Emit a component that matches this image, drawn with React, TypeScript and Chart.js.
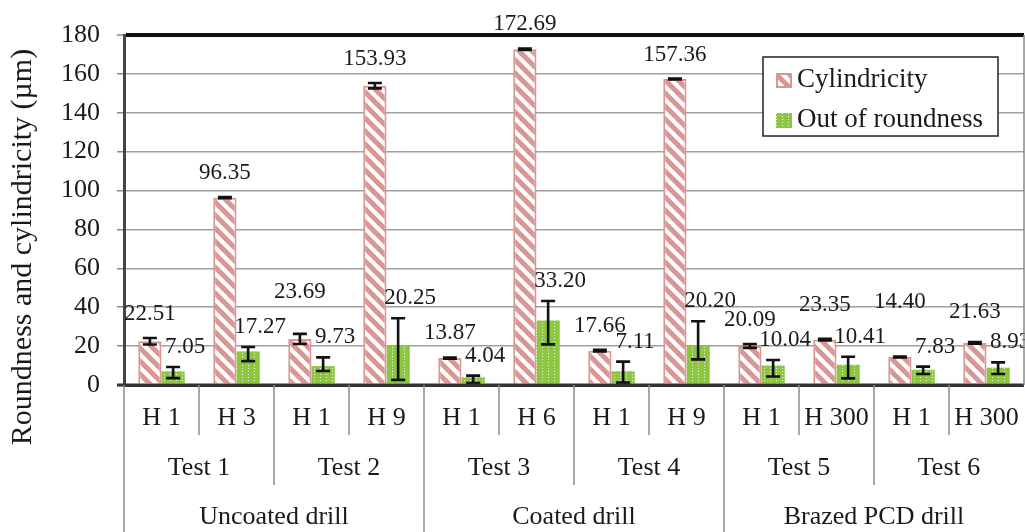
import { useEffect, useRef } from "react";
import { Chart, registerables } from "chart.js";

Chart.register(...registerables);

const SERIF = "'Liberation Serif', 'Times New Roman', serif";

// ---- data ----
const hLabels = ["H 1", "H 3", "H 1", "H 9", "H 1", "H 6", "H 1", "H 9", "H 1", "H 300", "H 1", "H 300"];
const testLabels = ["Test 1", "Test 2", "Test 3", "Test 4", "Test 5", "Test 6"];
const drillLabels = ["Uncoated drill", "Coated drill", "Brazed PCD drill"];
const seriesNames = ["Cylindricity", "Out of roundness"];
const cylindricity = [22.51, 96.35, 23.69, 153.93, 13.87, 172.69, 17.66, 157.36, 20.09, 23.35, 14.4, 21.63];
const roundness = [7.05, 17.27, 9.73, 20.25, 4.04, 33.2, 7.11, 20.2, 10.04, 10.41, 7.83, 8.93];
const cylErrPlus = [1.7, 0.3, 2.6, 1.4, 0.3, 0.4, 0.4, 0.2, 1.0, 0.4, 0.2, 0.4];
const cylErrMinus = [1.7, 0.3, 2.6, 1.4, 0.3, 0.4, 0.4, 0.2, 1.0, 0.4, 0.2, 0.4];
const rndErrPlus = [2.2, 2.3, 4.5, 14.1, 0.8, 10.0, 4.9, 12.6, 2.8, 4.1, 1.6, 2.7];
const rndErrMinus = [3.5, 5.0, 2.5, 17.6, 3.1, 12.3, 5.9, 7.0, 5.7, 7.0, 2.2, 3.3];
const yTickValues = [0, 20, 40, 60, 80, 100, 120, 140, 160, 180];
const yTitle = "Roundness and cylindricity (\u00b5m)";

const PINK = "#d99694";
const GREEN = "#8dc641";
const TEXT = "#1a1a1a";

function makeStripePattern(): CanvasPattern | string {
  const w = 13, h = 13;
  const c = document.createElement("canvas");
  c.width = w; c.height = h;
  const g = c.getContext("2d");
  if (!g) return PINK;
  g.fillStyle = "#ffffff";
  g.fillRect(0, 0, w, h);
  g.strokeStyle = PINK;
  g.lineWidth = 5;
  g.lineCap = "square";
  for (const k of [-w, 0, w]) {
    g.beginPath();
    g.moveTo(k, 0);
    g.lineTo(k + w, h);
    g.stroke();
  }
  return g.createPattern(c, "repeat") || PINK;
}

function makeDotPattern(): CanvasPattern | string {
  const s = 6;
  const c = document.createElement("canvas");
  c.width = s; c.height = s;
  const g = c.getContext("2d");
  if (!g) return GREEN;
  g.fillStyle = GREEN;
  g.fillRect(0, 0, s, s);
  g.fillStyle = "rgba(255,255,255,0.85)";
  g.fillRect(2, 2, 1, 1);
  g.fillRect(2, 5, 1, 1);
  return g.createPattern(c, "repeat") || GREEN;
}

export default function App() {
  const ref = useRef<HTMLCanvasElement | null>(null);

  useEffect(() => {
    document.body.style.margin = "0";
    const canvas = ref.current;
    if (!canvas) return;
    const pinkFill = makeStripePattern();
    const greenFill = makeDotPattern();
    const series = [
      { vals: cylindricity, plus: cylErrPlus, minus: cylErrMinus },
      { vals: roundness, plus: rndErrPlus, minus: rndErrMinus },
    ];

    const overlay = {
      id: "overlay",
      afterDatasetsDraw(chart: any) {
        const { ctx, chartArea } = chart;
        const y = chart.scales.y;
        ctx.save();
        // error bars
        ctx.strokeStyle = "#111";
        ctx.lineWidth = 2.6;
        series.forEach((s, d) => {
          const meta = chart.getDatasetMeta(d);
          meta.data.forEach((el: any, i: number) => {
            const x = el.x;
            const t = y.getPixelForValue(s.vals[i] + s.plus[i]);
            const b = y.getPixelForValue(s.vals[i] - s.minus[i]);
            ctx.beginPath();
            ctx.moveTo(x, t); ctx.lineTo(x, b);
            ctx.moveTo(x - 7, t); ctx.lineTo(x + 7, t);
            ctx.moveTo(x - 7, b); ctx.lineTo(x + 7, b);
            ctx.stroke();
          });
        });
        // horizontal axis line over bars
        ctx.strokeStyle = "#333";
        ctx.lineWidth = 3;
        ctx.beginPath();
        ctx.moveTo(chartArea.left - 7, chartArea.bottom);
        ctx.lineTo(chartArea.right, chartArea.bottom);
        ctx.stroke();
        // data labels (pink label lifted if it collides with the previous green label)
        ctx.fillStyle = TEXT;
        ctx.font = `23px ${SERIF}`;
        ctx.textAlign = "center";
        ctx.textBaseline = "middle";
        const m0 = chart.getDatasetMeta(0);
        const m1 = chart.getDatasetMeta(1);
        let prevGreen: { x: number; y: number; w: number } | null = null;
        for (let i = 0; i < hLabels.length; i++) {
          // pink
          const tp = y.getPixelForValue(cylindricity[i] + cylErrPlus[i]);
          const px = m0.data[i].x;
          let py = tp - 24;
          const ptxt = cylindricity[i].toFixed(2);
          const pw = ctx.measureText(ptxt).width;
          if (prevGreen) {
            const overlapX = Math.abs(px - prevGreen.x) < (pw + prevGreen.w) / 2 + 2;
            const dy = prevGreen.y - py;
            if (overlapX && dy >= -2 && dy < 30) py = prevGreen.y - 35;
          }
          ctx.fillText(ptxt, px, py);
          // green
          const tg = y.getPixelForValue(roundness[i] + rndErrPlus[i]);
          const gx = m1.data[i].x + 12;
          const gy = tg - 20;
          const gtxt = roundness[i].toFixed(2);
          ctx.fillText(gtxt, gx, gy);
          prevGreen = { x: gx, y: gy, w: ctx.measureText(gtxt).width };
        }
        ctx.restore();
      },
      afterDraw(chart: any) {
        const { ctx, chartArea } = chart;
        const xs = chart.scales.x;
        const b = chartArea.bottom;
        const w = xs.getPixelForValue(1) - xs.getPixelForValue(0);
        const x0 = xs.getPixelForValue(0) - w / 2;
        ctx.save();
        // right border of plot area
        ctx.strokeStyle = "#8a8a8a";
        ctx.lineWidth = 1.5;
        ctx.beginPath();
        ctx.moveTo(chartArea.right, chartArea.top);
        ctx.lineTo(chartArea.right, b);
        ctx.stroke();
        // category dividers
        ctx.strokeStyle = "#8c8c8c";
        ctx.lineWidth = 1.5;
        for (let i = 0; i < hLabels.length; i++) {
          let len = 50;
          if (i % 2 === 0) len = 100;
          if (i % 4 === 0) len = 150;
          const bx = x0 + i * w;
          ctx.beginPath();
          ctx.moveTo(bx, b);
          ctx.lineTo(bx, b + len);
          ctx.stroke();
        }
        // category labels
        ctx.fillStyle = TEXT;
        ctx.font = `26px ${SERIF}`;
        ctx.textAlign = "center";
        ctx.textBaseline = "middle";
        hLabels.forEach((l, i) => ctx.fillText(l, xs.getPixelForValue(i), b + 33));
        testLabels.forEach((l, i) => {
          const cx = (xs.getPixelForValue(i * 2) + xs.getPixelForValue(i * 2 + 1)) / 2;
          ctx.fillText(l, cx, b + 83);
        });
        drillLabels.forEach((l, i) => {
          const cx = (xs.getPixelForValue(i * 4) + xs.getPixelForValue(i * 4 + 3)) / 2;
          ctx.fillText(l, cx, b + 132);
        });
        // y title
        ctx.save();
        ctx.translate(23, 247);
        ctx.rotate(-Math.PI / 2);
        ctx.font = `30px ${SERIF}`;
        ctx.fillText(yTitle, 0, 0);
        ctx.restore();
        // legend
        const lx = chartArea.right - 261;
        const ly = chartArea.top + 22;
        const lw = 235, lh = 79;
        ctx.fillStyle = "#ffffff";
        ctx.fillRect(lx, ly, lw, lh);
        ctx.strokeStyle = "#222";
        ctx.lineWidth = 1.5;
        ctx.strokeRect(lx, ly, lw, lh);
        const fills = [pinkFill, greenFill];
        chart.data.datasets.forEach((ds: any, d: number) => {
          const iy = ly + 23 + d * 40;
          ctx.fillStyle = fills[d];
          ctx.fillRect(lx + 13, iy - 7, 16, 15);
          if (d === 0) {
            ctx.strokeStyle = PINK;
            ctx.lineWidth = 2;
            ctx.strokeRect(lx + 14, iy - 6, 14, 13);
          }
          ctx.fillStyle = TEXT;
          ctx.font = `27px ${SERIF}`;
          ctx.textAlign = "left";
          ctx.textBaseline = "middle";
          ctx.fillText(ds.label, lx + 34, iy);
        });
        ctx.restore();
      },
    };

    const chart = new Chart(canvas, {
      type: "bar",
      data: {
        labels: hLabels,
        datasets: [
          {
            label: seriesNames[0],
            data: cylindricity,
            backgroundColor: pinkFill as any,
            borderColor: PINK,
            borderWidth: 2,
            categoryPercentage: 0.62,
            barPercentage: 1,
          },
          {
            label: seriesNames[1],
            data: roundness,
            backgroundColor: greenFill as any,
            borderWidth: 0,
            categoryPercentage: 0.62,
            barPercentage: 1,
          },
        ],
      },
      options: {
        animation: false,
        responsive: false,
        layout: { padding: { left: 44, right: 1, top: 35, bottom: 147 } },
        plugins: { legend: { display: false }, tooltip: { enabled: false } },
        scales: {
          x: { display: false },
          y: {
            min: 0,
            max: 180,
            afterBuildTicks: (s: any) => {
              s.ticks = yTickValues.map((v) => ({ value: v }));
            },
            afterFit: (s: any) => {
              s.width = 80;
            },
            ticks: { font: { size: 26, family: SERIF }, color: TEXT, padding: 17 },
            grid: {
              color: (c: any) => (c.tick && c.tick.value === 180 ? "#111" : c.tick && c.tick.value === 0 ? "#333" : "#a0a0a0"),
              lineWidth: (c: any) => (c.tick && c.tick.value === 180 ? 4 : c.tick && c.tick.value === 0 ? 3 : 1.5),
              tickLength: 7,
              tickColor: "#8a8a8a",
              tickWidth: 1.5,
            },
            border: { color: "#444", width: 3 },
          },
        },
      },
      plugins: [overlay],
    });
    return () => chart.destroy();
  }, []);

  return <canvas ref={ref} width={1025} height={532} style={{ display: "block" }} />;
}
